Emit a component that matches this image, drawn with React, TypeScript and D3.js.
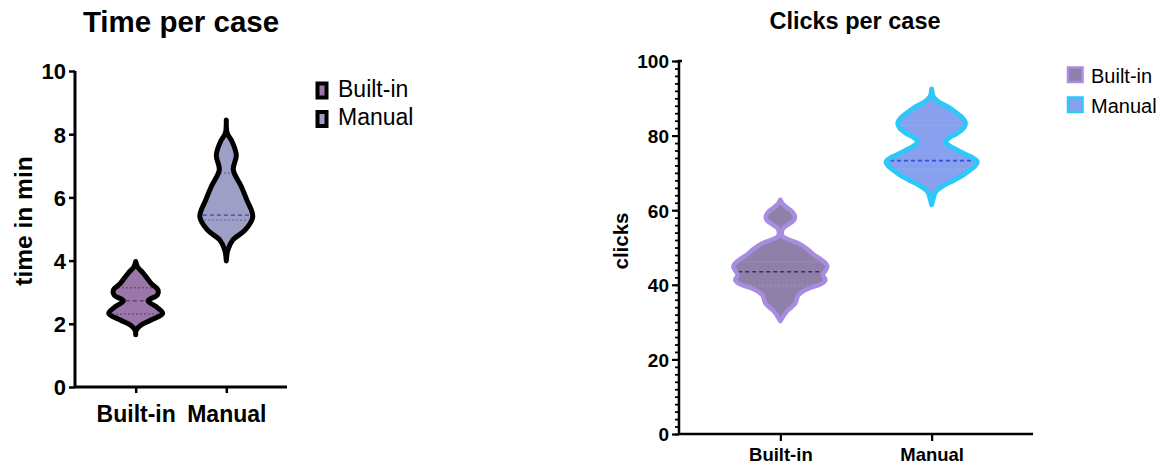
import React, { useEffect, useRef } from 'react';
import * as d3 from 'd3';

// ---- Time per case ----
const timeCategories = ['Built-in', 'Manual'];
const timeTicks = [0, 2, 4, 6, 8, 10];
const timeBuiltinValues = [1.65, 1.8, 1.96, 2.12, 2.33, 2.54, 2.73, 2.91, 3.07, 3.28, 3.6, 3.8, 3.97];
const timeBuiltinDensity = [0, 0.02, 0.2, 0.57, 1.0, 0.76, 0.46, 0.8, 0.83, 0.57, 0.28, 0.07, 0];
const timeManualValues = [3.99, 4.34, 4.65, 4.97, 5.39, 5.92, 6.34, 6.87, 7.34, 7.81, 8.02, 8.45];
const timeManualDensity = [0, 0.06, 0.24, 0.7, 0.98, 0.76, 0.56, 0.26, 0.37, 0.19, 0.04, 0];
const timeBuiltinQuartiles = [2.31, 2.73, 3.14];
const timeManualQuartiles = [5.28, 5.44, 6.77];

// ---- Clicks per case ----
const clickCategories = ['Built-in', 'Manual'];
const clickTicks = [0, 20, 40, 60, 80, 100];
const clickBuiltinValues = [30.3, 31.5, 32.8, 34, 35.1, 36.2, 37.2, 38.2, 39.3, 40.3, 41.3, 42.2, 42.8, 43.8, 45, 45.8, 47, 48, 49.5, 51, 52.2, 53, 54, 55.2, 56.2, 57.2, 58.3, 59.5, 60.6, 61.7, 62.8];
const clickBuiltinDensity = [0, 0.06, 0.13, 0.24, 0.32, 0.35, 0.38, 0.47, 0.66, 0.88, 0.96, 0.92, 0.91, 0.96, 1.0, 0.96, 0.84, 0.72, 0.58, 0.4, 0.16, 0.05, 0.03, 0.06, 0.17, 0.28, 0.31, 0.26, 0.15, 0.05, 0];
const clickManualValues = [61.5, 63, 65, 66.5, 68.1, 69.5, 70.8, 72, 73, 74.2, 75.2, 76.1, 77.2, 78.4, 79.5, 80.6, 82, 83.3, 84.8, 86.3, 87.8, 89, 90.5, 92.5];
const clickManualDensity = [0, 0.03, 0.085, 0.24, 0.48, 0.68, 0.82, 0.93, 0.97, 0.85, 0.68, 0.55, 0.38, 0.3, 0.38, 0.54, 0.68, 0.72, 0.65, 0.5, 0.33, 0.15, 0.03, 0];
const clickBuiltinQuartiles = [39.8, 43.5, 46.2];
const clickManualQuartiles = [71, 73.3, 82.8];

const FONT = '"Liberation Sans", Arial, sans-serif';

export default function App() {
  const ref = useRef<SVGSVGElement>(null);

  useEffect(() => {
    if (!ref.current) return;
    const svg = d3.select(ref.current);
    svg.selectAll('*').remove();

    // one violin: filled density shape, quartile lines, outline on top
    function violin(
      g: any, cx: number, y: any, w: any, values: number[], dens: number[],
      quart: number[], fill: string, stroke: string, sw: number,
      medColor: string, dotColor: string
    ) {
      const pts = values.map((v, i) => [v, dens[i]] as [number, number]);
      const area = d3.area<[number, number]>()
        .curve(d3.curveCatmullRom)
        .y(d => y(d[0]))
        .x0(d => cx - w(d[1]))
        .x1(d => cx + w(d[1]));
      g.append('path').attr('d', area(pts)).attr('fill', fill);
      const interp = d3.scaleLinear().domain(values).range(dens).clamp(true);
      quart.forEach((q, i) => {
        const hw = Math.max(0, w(interp(q)) - sw / 2);
        g.append('line')
          .attr('x1', cx - hw).attr('x2', cx + hw)
          .attr('y1', y(q)).attr('y2', y(q))
          .attr('stroke', i === 1 ? medColor : dotColor)
          .attr('stroke-width', i === 1 ? 1.6 : 1.4)
          .attr('stroke-dasharray', i === 1 ? '4,3' : '1.5,2.5');
      });
      g.append('path').attr('d', area(pts)).attr('fill', 'none')
        .attr('stroke', stroke).attr('stroke-width', sw).attr('stroke-linejoin', 'round');
    }

    // ================= Left chart =================
    const L = svg.append('g').attr('font-family', FONT);
    const ly = d3.scaleLinear().domain([0, 10]).range([387, 71]);
    const lx = d3.scalePoint<string>().domain(timeCategories).range([75, 287]).padding(0.67);
    const lw = d3.scaleLinear().domain([0, 1]).range([0, 27]);

    const lyAxis = L.append('g').attr('transform', 'translate(75,0)')
      .call(d3.axisLeft(ly).tickValues(timeTicks).tickSize(6).tickPadding(3).tickFormat(d3.format('d')));
    lyAxis.select('.domain').attr('stroke-width', 3).attr('d', 'M0,71V387');
    lyAxis.selectAll('.tick line').attr('stroke-width', 2.5);
    lyAxis.selectAll('.tick text').attr('font-size', 22).attr('font-weight', 'bold').attr('font-family', FONT).attr('fill', '#000').attr('dy', '0.36em');

    const lxAxis = L.append('g').attr('transform', 'translate(0,387)')
      .call(d3.axisBottom(lx).tickSize(6).tickPadding(8));
    lxAxis.select('.domain').attr('stroke-width', 3).attr('d', 'M75,0H287');
    lxAxis.selectAll('.tick line').attr('stroke-width', 2.5);
    lxAxis.selectAll('.tick text').attr('font-size', 23).attr('font-weight', 'bold').attr('font-family', FONT).attr('fill', '#000').attr('dy', '0.9em');

    L.append('text').attr('x', 181).attr('y', 32).attr('text-anchor', 'middle')
      .attr('font-size', 29.5).attr('font-weight', 'bold').text('Time per case');
    L.append('text').attr('transform', 'translate(32,221) rotate(-90)').attr('text-anchor', 'middle')
      .attr('font-size', 24.5).attr('font-weight', 'bold').text('time in min');

    const timeFills = ['#9b77a9', '#9e9fc6'];
    violin(L, lx('Built-in')!, ly, lw, timeBuiltinValues, timeBuiltinDensity, timeBuiltinQuartiles,
      timeFills[0], '#000', 5, '#6b3d7c', '#6b3d7c');
    violin(L, lx('Manual')!, ly, lw, timeManualValues, timeManualDensity, timeManualQuartiles,
      timeFills[1], '#000', 5, '#5c5cab', '#5c5cab');

    timeCategories.forEach((c, i) => {
      const yy = 83.5 + i * 28.5;
      L.append('rect').attr('x', 317.5).attr('y', yy).attr('width', 9).attr('height', 14)
        .attr('fill', timeFills[i]).attr('stroke', '#000').attr('stroke-width', 4);
      L.append('text').attr('x', 338).attr('y', yy + 13).attr('font-size', 23).text(c);
    });

    // ================= Right chart =================
    const R = svg.append('g').attr('font-family', FONT);
    const ry = d3.scaleLinear().domain([0, 100]).range([434, 61]);
    const rx = d3.scalePoint<string>().domain(clickCategories).range([679, 1033]).padding(0.67);
    const rw = d3.scaleLinear().domain([0, 1]).range([0, 47]);

    const minor = R.append('g').attr('transform', 'translate(679,0)')
      .call(d3.axisLeft(ry).tickValues(d3.range(0, 101, 2)).tickSize(4).tickFormat(() => ''));
    minor.select('.domain').remove();
    minor.selectAll('.tick line').attr('stroke-width', 1.8);

    const ryAxis = R.append('g').attr('transform', 'translate(679,0)')
      .call(d3.axisLeft(ry).tickValues(clickTicks).tickSize(7).tickPadding(3).tickFormat(d3.format('d')));
    ryAxis.select('.domain').attr('stroke-width', 2.5).attr('d', 'M3,61H0V434');
    ryAxis.selectAll('.tick line').attr('stroke-width', 2.2);
    ryAxis.selectAll('.tick text').attr('font-size', 19).attr('font-weight', 'bold').attr('font-family', FONT).attr('fill', '#000').attr('dy', '0.36em');

    const rxAxis = R.append('g').attr('transform', 'translate(0,434)')
      .call(d3.axisBottom(rx).tickSize(7).tickPadding(7));
    rxAxis.select('.domain').attr('stroke-width', 2.5).attr('d', 'M679,0H1033');
    rxAxis.selectAll('.tick line').attr('stroke-width', 2.2);
    rxAxis.selectAll('.tick text').attr('font-size', 18.5).attr('font-weight', 'bold').attr('font-family', FONT).attr('fill', '#000').attr('dy', '0.68em');

    R.append('text').attr('x', 855).attr('y', 29).attr('text-anchor', 'middle')
      .attr('font-size', 23.5).attr('font-weight', 'bold').text('Clicks per case');
    R.append('text').attr('transform', 'translate(628,241) rotate(-90)').attr('text-anchor', 'middle')
      .attr('font-size', 20.5).attr('font-weight', 'bold').text('clicks');

    const clickFills = ['#8e80a8', '#88a0ee'];
    const clickStrokes = ['#a78ce0', '#2ec8f8'];
    violin(R, rx('Built-in')!, ry, rw, clickBuiltinValues, clickBuiltinDensity, clickBuiltinQuartiles,
      clickFills[0], clickStrokes[0], 4.5, '#3f2f5c', '#a690cc');
    violin(R, rx('Manual')!, ry, rw, clickManualValues, clickManualDensity, clickManualQuartiles,
      clickFills[1], clickStrokes[1], 5, '#3350d8', '#5cd2f6');

    clickCategories.forEach((c, i) => {
      const yy = 67.5 + i * 30;
      R.append('rect').attr('x', 1068).attr('y', yy).attr('width', 14.5).attr('height', 14.5)
        .attr('fill', clickFills[i]).attr('stroke', clickStrokes[i]).attr('stroke-width', 2.5);
      R.append('text').attr('x', 1091).attr('y', yy + 15).attr('font-size', 20).text(c);
    });
  }, []);

  return (
    <svg ref={ref} width={1167} height={466}
      style={{ position: 'absolute', left: 0, top: 0, background: '#fff' }} />
  );
}
